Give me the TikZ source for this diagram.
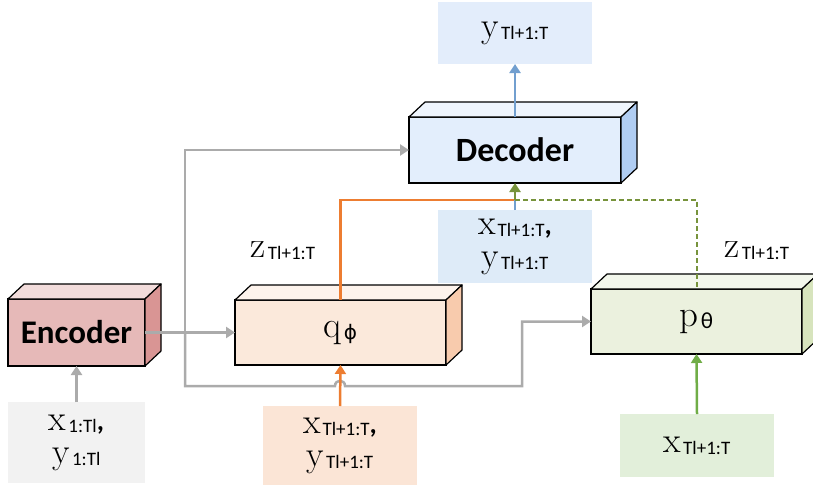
\documentclass[tikz,border=0pt]{standalone}
\usepackage{fontspec}
\newfontfamily\subf{Carlito}
\newfontfamily\gsym{DejaVu Sans}
\usetikzlibrary{arrows.meta}
\definecolor{encF}{HTML}{E6B9B8}\definecolor{encT}{HTML}{F2DCDB}\definecolor{encS}{HTML}{D99594}
\definecolor{qF}{HTML}{FBE9DB}\definecolor{qT}{HTML}{FDF3EC}\definecolor{qS}{HTML}{F8CBAD}
\definecolor{decF}{HTML}{E3EEFC}\definecolor{decT}{HTML}{EFF5FD}\definecolor{decS}{HTML}{B0CDF3}
\definecolor{pF}{HTML}{EBF1DE}\definecolor{pT}{HTML}{F3F7EC}\definecolor{pS}{HTML}{D7E4BD}
\definecolor{inGray}{HTML}{F2F2F2}\definecolor{inOr}{HTML}{FBE5D6}\definecolor{inBl}{HTML}{DEEBF8}
\definecolor{outBl}{HTML}{E3EDFB}\definecolor{inGr}{HTML}{E2EFDA}
\definecolor{cGray}{HTML}{ABABAB}\definecolor{cOr}{HTML}{ED7D31}\definecolor{cBl}{HTML}{729FCF}
\definecolor{cGr}{HTML}{70AD47}\definecolor{cOl}{HTML}{77933C}
\newcommand\lbl[2]{#1\kern2pt\raisebox{-2pt}{\subf\fontsize{19}{19}\selectfont #2}}
\newcommand\cm{{\subf\bfseries\fontsize{28}{28}\selectfont ,}}
\newcommand\cubefaces[3]{%
  \filldraw[fill=#2,facestyle] (#1.north west) -- ++(16,-15) -- ([shift={(16,-15)}]#1.north east) -- (#1.north east) -- cycle;
  \filldraw[fill=#3,facestyle] (#1.north east) -- ++(16,-15) -- ([shift={(16,-15)}]#1.south east) -- (#1.south east) -- cycle;}
\begin{document}
\begin{tikzpicture}[x=1pt,y=-1pt,
  facestyle/.style={draw=black,line width=1.2pt,line join=round},
  front/.style={draw=black,line width=1.2pt,inner sep=0pt,outer sep=0pt,minimum height=66pt},
  inbox/.style={inner sep=0pt,outer sep=0pt,align=center,font=\fontsize{36}{33}\selectfont},
  mathlbl/.style={inner sep=0pt,font=\fontsize{37}{31}\selectfont},
  conn/.style={line width=2.5pt,-{Triangle[width=11pt,length=9pt]}},
  plain/.style={line width=2.5pt}]
\useasboundingbox (0,0) rectangle (813,490);
% 3D boxes
\node[front,fill=encF,minimum width=137pt,minimum height=67pt,font=\subf\bfseries\fontsize{33}{33}\selectfont] (enc) at (76.5,332.5) {Encoder};
\node[front,fill=qF,minimum width=211pt,minimum height=65pt,font=\fontsize{37}{31}\selectfont] (q) at (340.5,332.5) {q\kern2pt\raisebox{-2pt}{\gsym\fontsize{20}{20}\selectfont ϕ}};
\node[front,fill=decF,minimum width=212pt,minimum height=66pt,font=\subf\bfseries\fontsize{34}{34}\selectfont] (dec) at (515,150) {Decoder};
\node[front,fill=pF,minimum width=211pt,minimum height=65pt,font=\fontsize{37}{31}\selectfont] (p) at (696.5,321.5) {p\kern2pt\raisebox{-2pt}{\subf\fontsize{23}{23}\selectfont θ}};
\cubefaces{enc}{encT}{encS}
\cubefaces{q}{qT}{qS}
\cubefaces{dec}{decT}{decS}
\cubefaces{p}{pT}{pS}
% input / output boxes
\node[inbox,fill=inGray,minimum width=137pt,minimum height=81pt] (encin) at (76.5,442.5) {\lbl{x}{1:Tl}\cm\\\lbl{y}{1:Tl}};
\node[inbox,fill=inOr,minimum width=154pt,minimum height=79pt] (qin) at (340,445.5) {\lbl{x}{Tl+1:T}\cm\\\lbl{y}{Tl+1:T}};
\node[inbox,fill=inBl,minimum width=154pt,minimum height=73pt] (mid) at (515,246.5) {\lbl{x}{Tl+1:T}\cm\\\lbl{y}{Tl+1:T}};
\node[inbox,fill=outBl,minimum width=154pt,minimum height=62pt] (yout) at (515,33) {\lbl{y}{Tl+1:T}};
\node[inbox,fill=inGr,minimum width=154pt,minimum height=63pt] (pin) at (697,445.5) {\lbl{x}{Tl+1:T}};
% z labels
\node[mathlbl] (zq) at (283,251) {\lbl{z}{Tl+1:T}};
\node[mathlbl] (zp) at (757,251) {\lbl{z}{Tl+1:T}};
% coordinates
\coordinate (j) at (185,332.5);
\coordinate (jb) at (185,386);
\coordinate (hopL) at (335,386);
\coordinate (hopR) at (345,386);
\coordinate (br) at (522,386);
\coordinate (m) at (515,200);
\coordinate (qtop) at (340.5,200);
\coordinate (dr) at (697,200);
% gray connectors
\draw[conn,cGray] (encin.north) -- (enc.south);
\draw[conn,cGray] (enc.east) -- (q.west);
\draw[conn,cGray] (j) |- (dec.west);
\draw[conn,cGray] (j) -- (jb) -- (hopL) .. controls (335,379) and (345,379) .. (hopR) -- (br) |- (p.west);
% orange
\draw[conn,cOr] (qin.north) -- (q.south);
\draw[plain,cOr] (q.north) -- (qtop) -- (m);
% blue
\draw[conn,cBl] (dec.north) -- (yout.south);
\draw[plain,cBl] (mid.north) -- (m);
% green
\draw[conn,cOl] (m) -- (dec.south);
\draw[plain,cOl,dash pattern=on 5pt off 3pt,line width=2.2pt] (m) -- (dr) -- (dr |- p.north);
\draw[conn,cGr] (pin.north) -- (p.south);
\end{tikzpicture}
\end{document}
